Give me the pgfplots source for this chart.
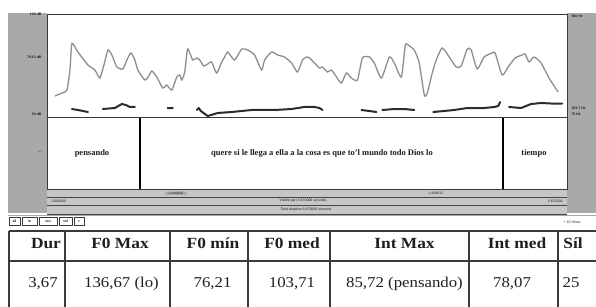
\documentclass[border=0pt]{standalone}
\usepackage{pgfplots}
\pgfplotsset{compat=1.18}
\usepackage{pgfplotstable}
\usepackage{fontspec}
\setmainfont{Liberation Serif}
\setsansfont{Liberation Sans}
\newfontfamily\tabfont[FakeStretch=1.12]{Liberation Serif}
\definecolor{panel}{HTML}{A9A9A9}
\definecolor{band}{HTML}{C6C6C6}
\definecolor{intcol}{HTML}{8E8E8E}
\definecolor{fzcol}{HTML}{2C2C2C}
\definecolor{ink}{HTML}{1E1E1E}
\definecolor{rule}{HTML}{3A3A3A}

\pgfplotstableread{
t db
0.056 60.19
0.106 61.65
0.141 63.11
0.162 72.82
0.176 85.72
0.218 81.55
0.289 75.24
0.338 72.82
0.373 68.93
0.402 75.24
0.430 82.52
0.458 80.10
0.493 74.27
0.535 73.30
0.564 77.67
0.592 81.07
0.620 77.67
0.641 72.82
0.690 67.96
0.718 69.90
0.740 72.33
0.775 69.42
0.817 64.08
0.845 65.53
0.881 63.11
0.916 69.42
0.937 70.39
0.951 67.96
0.972 71.84
0.993 83.01
1.028 77.67
1.057 78.64
1.078 77.67
1.106 74.76
1.134 75.73
1.162 76.70
1.197 71.36
1.233 76.70
1.254 79.13
1.275 81.55
1.324 77.67
1.374 83.01
1.416 82.52
1.465 80.10
1.514 72.82
1.536 77.67
1.585 81.55
1.627 80.10
1.676 79.13
1.726 76.21
1.768 71.84
1.803 77.67
1.831 79.13
1.853 78.64
1.888 76.21
1.923 73.79
1.944 74.27
1.979 71.84
2.008 72.82
2.043 69.42
2.078 66.50
2.113 71.36
2.148 68.93
2.191 67.96
2.226 78.64
2.275 79.13
2.310 76.21
2.360 68.93
2.416 79.13
2.451 76.21
2.501 69.42
2.529 84.95
2.557 84.47
2.592 82.52
2.627 76.21
2.663 60.68
2.684 61.65
2.719 71.36
2.747 77.67
2.789 83.50
2.839 79.13
2.888 74.27
2.923 74.76
2.966 83.01
2.994 82.52
3.036 73.30
3.085 79.13
3.142 81.07
3.163 81.07
3.212 70.39
3.254 74.27
3.304 78.64
3.353 80.10
3.374 80.58
3.402 76.70
3.437 79.13
3.487 76.21
3.543 68.93
3.607 62.14
}\intensity

\pgfplotstableread{
t hz
0.176 108.0
0.218 103.9
0.289 95.6
nan nan
0.394 108.0
0.479 112.1
0.528 128.6
0.556 124.5
0.585 116.3
0.620 116.3
nan nan
0.852 112.1
0.888 112.1
nan nan
1.057 103.9
1.071 112.1
1.085 99.8
1.134 79.0
1.205 91.5
1.303 95.6
1.444 103.9
1.606 103.9
1.726 108.0
1.817 116.3
1.888 116.3
1.923 112.1
1.944 103.9
nan nan
2.219 103.9
2.275 99.8
2.325 95.6
nan nan
2.367 103.9
2.451 108.0
2.522 108.0
2.592 103.9
nan nan
2.726 95.6
2.874 103.9
2.966 112.1
3.085 112.1
3.156 116.3
3.184 120.4
3.198 136.7
nan nan
3.261 116.3
3.346 112.1
3.416 128.6
3.487 132.8
3.557 130.7
3.635 130.7
}\pitch

\begin{document}
\begin{tikzpicture}[x=1pt,y=1pt]
\useasboundingbox (0,0) rectangle (596,306);
\clip (0,0) rectangle (596,306);
\coordinate (A) at (47,189);
% side panels
\fill[panel] (8,93) rectangle (47,293);
\fill[panel] (567,93) rectangle (596,293);
% bottom bands
\fill[band] (47,92) rectangle (567,117);
\draw[gray!55!black, line width=0.6] (47,109) -- (567,109);
\draw[gray!55!black, line width=0.6] (47,101) -- (567,101);
\draw[gray!55!black, line width=0.6] (47,92) -- (567,92);
\fill[gray!65] (165,111) rectangle (187,114);
\node[font=\sffamily\fontsize{3.5}{4}\selectfont, text=ink] at (176,112.5) {1.836450};
\node[font=\sffamily\fontsize{3.5}{4}\selectfont, text=ink] at (436,112.5) {1.834012};
\node[font=\sffamily\fontsize{3.5}{4}\selectfont, text=ink, anchor=west] at (48,104.5) {0.000000};
\node[font=\sffamily\fontsize{3.5}{4}\selectfont, text=ink, anchor=east] at (566,104.5) {3.670000};
\node[font=\sffamily\fontsize{3.5}{4}\selectfont, text=ink] at (303,105) {Visible part 3.670000 seconds};
\node[font=\sffamily\fontsize{3.5}{4}\selectfont, text=ink] at (306,97) {Total duration 3.670000 seconds};
% toolbar
\draw[gray!70, line width=0.6] (8,91) -- (596,91);
\foreach \a/\b/\l in {9/20/all,22/37/in,39/57/out,59/72/sel,74/84/<}{
  \draw[rule, line width=0.5, fill=white] (\a,81) rectangle (\b,89);
  \node[font=\sffamily\bfseries\fontsize{3.5}{4}\selectfont, text=ink] at ({(\a+\b)/2},85) {\l};
}
\node[font=\sffamily\fontsize{3.5}{4}\selectfont, text=ink] at (572,84) {+ 10 Show};
% left / right panel labels
\node[font=\sffamily\bfseries\fontsize{3.5}{4}\selectfont, text=ink, anchor=east] at (45,292) {100 dB};
\node[font=\sffamily\bfseries\fontsize{3.5}{4}\selectfont, text=ink, anchor=east] at (45,249) {79.13 dB};
\node[font=\sffamily\bfseries\fontsize{3.5}{4}\selectfont, text=ink, anchor=east] at (45,192) {50 dB};
\node[font=\sffamily\bfseries\fontsize{3.5}{4}\selectfont, text=ink, anchor=east] at (45,154) {---};
\node[font=\sffamily\bfseries\fontsize{3.5}{4}\selectfont, text=ink, anchor=west] at (568,290) {500 Hz};
\node[font=\sffamily\bfseries\fontsize{3.5}{4}\selectfont, text=ink, anchor=west] at (568,198) {103.7 Hz};
\node[font=\sffamily\bfseries\fontsize{3.5}{4}\selectfont, text=ink, anchor=west] at (568,192) {75 Hz};
% textgrid tier
\fill[white] (47,117) rectangle (567,189);
\draw[rule, line width=0.9] (47,117) rectangle (567,189);
\draw[black, line width=2] (140,117) -- (140,189);
\draw[black, line width=2] (503,117) -- (503,189);
\node[font=\bfseries\fontsize{8.5}{10}\selectfont, text=ink] at (92,153) {pensando};
\node[font=\bfseries\fontsize{8.5}{10}\selectfont, text=ink] at (322,153) {quere si le llega a ella a la cosa es que to'l mundo todo Dios lo};
\node[font=\bfseries\fontsize{8.5}{10}\selectfont, text=ink] at (534,153) {tiempo};
% intensity
\begin{axis}[at={(A)}, anchor=south west, scale only axis,
  width=520pt, height=103pt, xmin=0, xmax=3.67, ymin=50, ymax=100,
  xtick=\empty, ytick=\empty, axis background/.style={fill=white},
  axis line style={rule, line width=0.9pt}]
\addplot[intcol, line width=1.3pt, smooth, tension=0.35] table[x=t,y=db]{\intensity};
\end{axis}
% pitch
\begin{axis}[at={(A)}, anchor=south west, scale only axis,
  width=520pt, height=103pt, xmin=0, xmax=3.67, ymin=75, ymax=500,
  axis lines=none, unbounded coords=jump]
\addplot[fzcol, line width=2pt, line join=round, line cap=round] table[x=t,y=hz]{\pitch};
\end{axis}
% table
\draw[rule, line width=1.3] (9,75) -- (600,75);
\draw[rule, line width=1.3] (9,45) -- (600,45);
\foreach \x in {9,65,170,248,330,469,558}{
  \draw[rule, line width=1.3] (\x,75) -- (\x,-5);
}
\begin{scope}[every node/.style={font=\tabfont\bfseries\fontsize{15.5}{18}\selectfont, text=ink, anchor=base}]
\node at (46,58) {Dur};
\node at (120,58) {F0 Max};
\node at (213,58) {F0 mín};
\node at (292,58) {F0 med};
\node at (404.5,58) {Int Max};
\node at (517,58) {Int med};
\node at (573,58) {Síl};
\end{scope}
\begin{scope}[every node/.style={font=\tabfont\fontsize{15}{18}\selectfont, text=ink, anchor=base}]
\node at (43,19) {3,67};
\node at (121.5,19) {136,67 (lo)};
\node at (212.5,19) {76,21};
\node at (292,19) {103,71};
\node at (404.5,19) {85,72 (pensando)};
\node at (512,19) {78,07};
\node at (571,19) {25};
\end{scope}
\end{tikzpicture}
\end{document}
